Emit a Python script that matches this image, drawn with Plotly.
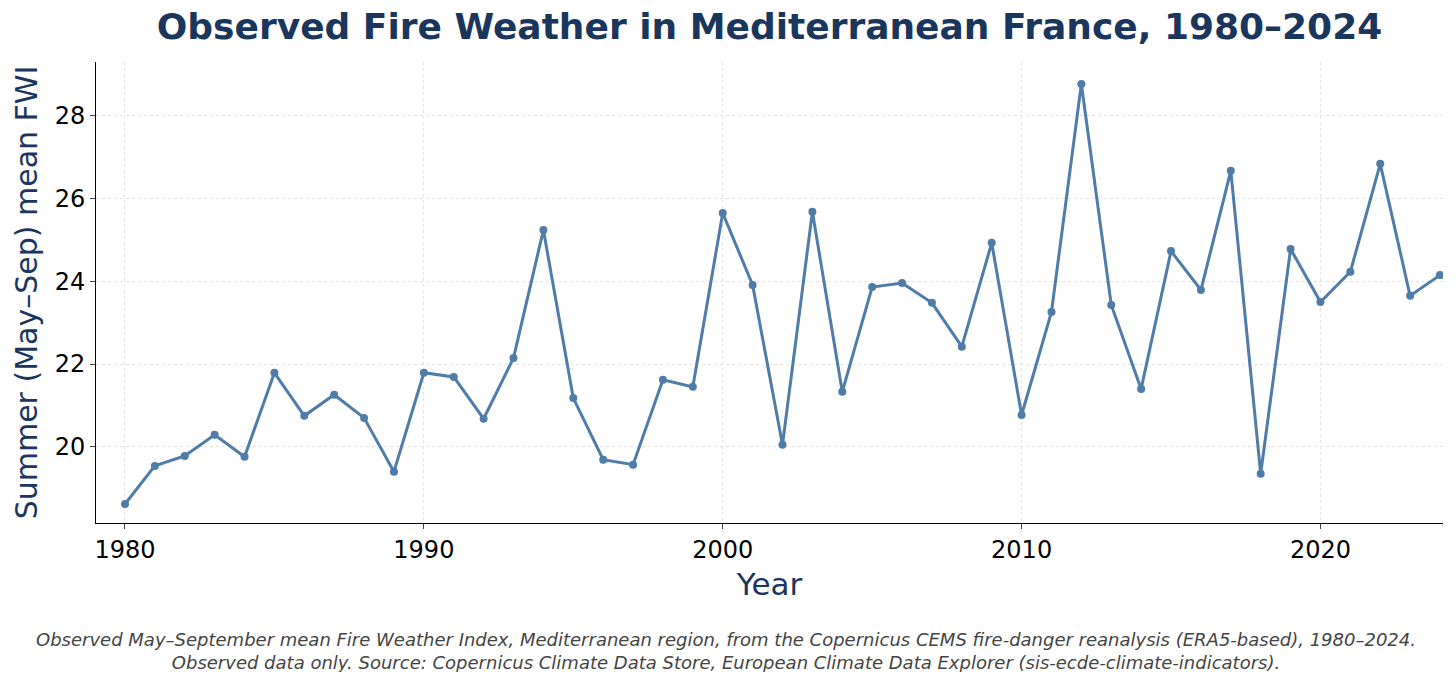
import plotly.graph_objects as go

years = list(range(1980, 2025))
fwi = [18.62, 19.54, 19.78, 20.29, 19.76, 21.79, 20.75, 21.26, 20.70, 19.40,
       21.79, 21.69, 20.68, 22.15, 25.24, 21.18, 19.69, 19.57, 21.62, 21.45,
       25.65, 23.91, 20.05, 25.68, 21.33, 23.86, 23.96, 23.48, 22.42, 24.93,
       20.77, 23.26, 28.77, 23.43, 21.40, 24.73, 23.79, 26.67, 19.35, 24.78,
       23.50, 24.23, 26.84, 23.65, 24.15]

navy = "#1b365d"
fig = go.Figure(go.Scatter(x=years, y=fwi, mode="lines+markers",
                           line=dict(color="#4f7ca8", width=3),
                           marker=dict(size=8, color="#4f7ca8")))

fig.update_layout(
    width=1440, height=664, plot_bgcolor="white", paper_bgcolor="white",
    margin=dict(l=88, r=5, t=54, b=149),
    font=dict(family="DejaVu Sans", color="black"),
    title=dict(text="<b>Observed Fire Weather in Mediterranean France, 1980–2024</b>",
               xref="paper", x=0.5, xanchor="center", y=0.972, yanchor="middle",
               font=dict(size=36, color=navy)),
    showlegend=False,
)
fig.update_xaxes(range=[1979.03, 2024.1], tickvals=[1980, 1990, 2000, 2010, 2020],
                 title=dict(text="Year", font=dict(size=31, color=navy), standoff=10),
                 tickfont=dict(size=24), showline=True, linecolor="black",
                 ticks="outside", showgrid=True, gridcolor="#e3e3e3", griddash="dot",
                 zeroline=False)
fig.update_yaxes(range=[18.16, 29.3], tickvals=[20, 22, 24, 26, 28],
                 title=dict(text="Summer (May–Sep) mean FWI", font=dict(size=30, color=navy), standoff=8),
                 tickfont=dict(size=24), showline=True, linecolor="black",
                 ticks="outside", showgrid=True, gridcolor="#e3e3e3", griddash="dot",
                 zeroline=False)
fig.add_annotation(
    text="<i>Observed May–September mean Fire Weather Index, Mediterranean region, from the Copernicus CEMS fire-danger reanalysis (ERA5-based), 1980–2024.<br>"
         "Observed data only. Source: Copernicus Climate Data Store, European Climate Data Explorer (sis-ecde-climate-indicators).</i>",
    xref="paper", yref="paper", x=0.468, y=-0.225, xanchor="center", yanchor="top",
    showarrow=False, font=dict(size=18, color="#444444"))

fig.write_html("out.html")
